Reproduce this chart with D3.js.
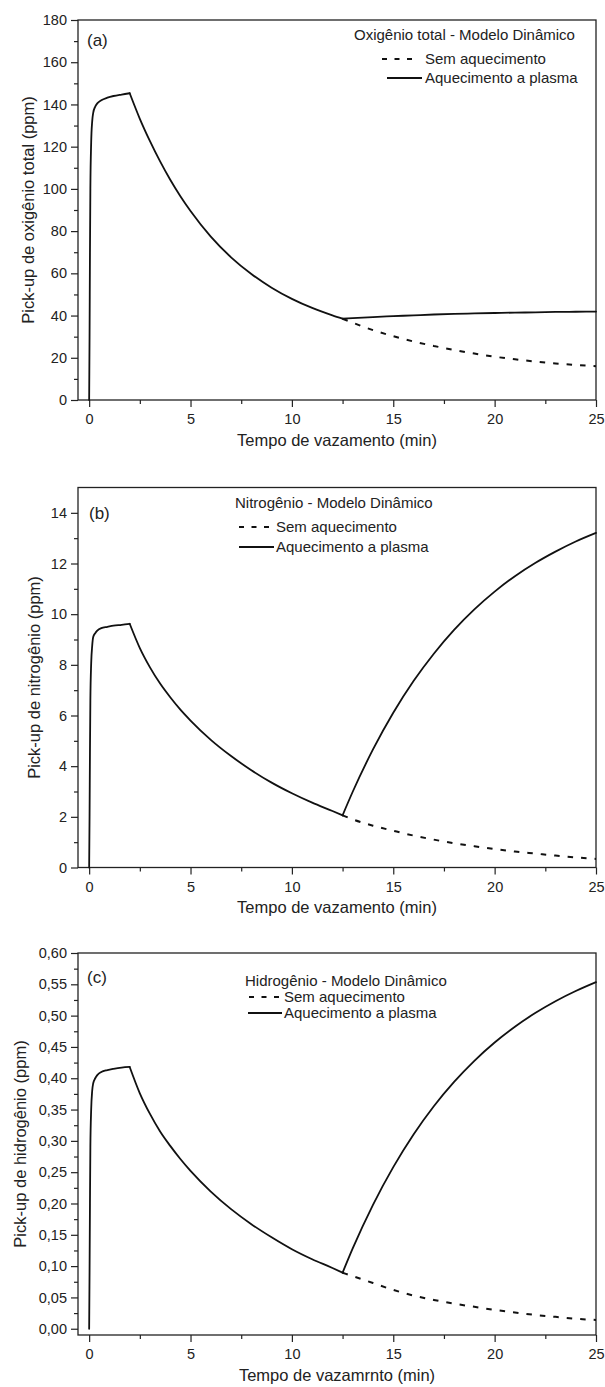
<!DOCTYPE html>
<html><head><meta charset="utf-8">
<script src="https://cdn.jsdelivr.net/npm/d3@7"></script>
<style>
body{margin:0;background:#fff}
text{font-family:"Liberation Sans",Arial,sans-serif;fill:#222}
</style>
</head><body>
<svg id="chart" width="605" height="1387"></svg>
<script>
// ---- data ----
const tCommon = [0,0.02,0.04,0.06,0.1,0.15,0.2,0.3,0.4,0.6,0.9,1.2,1.6,2.0,2.5,3,3.5,4,4.5,5,6,7,8,9,10,11,12,12.5];
const tAfter  = [12.5,13,14,15,16,17,18,19,20,21,22,23,24,25];

const oxCommon = [0,30,70,100,122,132,136,139,140.5,142,143.2,144,144.7,145.3,133.2,122.6,113.0,104.3,96.5,89.5,77.4,67.6,59.7,53.2,47.9,43.6,40.1,38.5];
const oxSem    = [38.5,36.6,33.1,30.2,27.7,25.6,23.7,22.0,20.5,19.3,18.2,17.3,16.6,16.0];
const oxPlasma = [38.5,38.8,39.3,39.7,40.1,40.5,40.8,41.0,41.2,41.4,41.5,41.7,41.8,41.9];

const nCommon = [0,2.0,4.6,6.6,8.05,8.75,9.1,9.25,9.35,9.45,9.5,9.55,9.58,9.62,8.66,7.90,7.26,6.72,6.23,5.80,5.04,4.40,3.84,3.35,2.93,2.56,2.23,2.06];
const nSem     = [2.06,1.9,1.65,1.45,1.26,1.1,0.96,0.84,0.73,0.63,0.55,0.47,0.40,0.34];
const nPlasma  = [2.06,2.99,4.66,6.11,7.36,8.44,9.38,10.19,10.89,11.50,12.02,12.47,12.87,13.21];

const hCommon = [0,0.09,0.2,0.29,0.35,0.38,0.392,0.40,0.405,0.41,0.413,0.415,0.417,0.418,0.376,0.343,0.315,0.292,0.271,0.252,0.219,0.191,0.167,0.146,0.127,0.111,0.097,0.0895];
const hSem     = [0.0895,0.084,0.073,0.062,0.053,0.046,0.040,0.035,0.030,0.026,0.022,0.019,0.016,0.014];
const hPlasma  = [0.0895,0.1283,0.1979,0.2581,0.3102,0.3553,0.3942,0.4279,0.4571,0.4823,0.5041,0.5230,0.5393,0.5535];

const xMajor = [0,5,10,15,20,25];
const xMinor = [2.5,7.5,12.5,17.5,22.5];
const legendSem = "Sem aquecimento";
const legendPlasma = "Aquecimento a plasma";

const commaFmt = d3.formatLocale({decimal:",",thousands:".",grouping:[3],currency:["",""]}).format(".2f");

const panels = [
 {label:"(a)", top:20, bottom:400, yDomain:[0,180], yMajor:d3.range(0,181,20), yMinor:d3.range(10,180,20),
  fmt:d3.format("d"), common:oxCommon, sem:oxSem, plasma:oxPlasma,
  yTitle:"Pick-up de oxigênio total (ppm)", yTitleX:28, xTitle:"Tempo de vazamento (min)",
  legTitle:"Oxigênio total - Modelo Dinâmico", legTitleX:354, legDashX:382, legSolidX:387, legSolidX2:422, legTextX:425, legY:[35,59,78], labelPos:[87,40]},
 {label:"(b)", top:487.5, bottom:867.5, yDomain:[0,15], yMajor:d3.range(0,15,2), yMinor:d3.range(1,14,2),
  fmt:d3.format("d"), common:nCommon, sem:nSem, plasma:nPlasma,
  yTitle:"Pick-up de nitrogênio (ppm)", yTitleX:34, xTitle:"Tempo de vazamento (min)",
  legTitle:"Nitrogênio - Modelo Dinâmico", legTitleX:235, legDashX:239, legSolidX:239, legSolidX2:274, legTextX:276, legY:[503,527,547], labelPos:[89,513]},
 {label:"(c)", top:953, bottom:1335, yDomain:[-0.01,0.6], yMajor:d3.range(0,13).map(i=>i*0.05), yMinor:d3.range(0,12).map(i=>i*0.05+0.025),
  fmt:commaFmt, common:hCommon, sem:hSem, plasma:hPlasma,
  yTitle:"Pick-up de hidrogênio (ppm)", yTitleX:20, xTitle:"Tempo de vazamrnto (min)",
  legTitle:"Hidrogênio - Modelo Dinâmico", legTitleX:245, legDashX:249, legSolidX:248, legSolidX2:282, legTextX:284, legY:[981,997,1013], labelPos:[87,977]}
];

const svg = d3.select("#chart");
const L = 78, R = 596;

panels.forEach(p => {
  const g = svg.append("g");
  const x = d3.scaleLinear().domain([-0.55,25]).range([L,R]);
  const y = d3.scaleLinear().domain(p.yDomain).range([p.bottom,p.top]);

  const xa = g.append("g").attr("transform",`translate(0,${p.bottom})`)
    .call(d3.axisBottom(x).tickValues(xMajor).tickSize(7).tickPadding(7).tickFormat(d3.format("d")));
  const xm = g.append("g").attr("transform",`translate(0,${p.bottom})`)
    .call(d3.axisBottom(x).tickValues(xMinor).tickSize(4).tickFormat(""));
  const ya = g.append("g").attr("transform",`translate(${L},0)`)
    .call(d3.axisLeft(y).tickValues(p.yMajor).tickSize(7).tickPadding(4).tickFormat(p.fmt));
  const ym = g.append("g").attr("transform",`translate(${L},0)`)
    .call(d3.axisLeft(y).tickValues(p.yMinor).tickSize(4).tickFormat(""));
  [xa,xm,ya,ym].forEach(a=>{
    a.select(".domain").remove();
    a.selectAll("line").attr("stroke","#222").attr("stroke-width",1.2);
    a.selectAll("text").style("font-size","14.5px").attr("fill","#222").style("font-family",'"Liberation Sans",Arial,sans-serif');
  });

  g.append("rect").attr("x",L).attr("y",p.top).attr("width",R-L).attr("height",p.bottom-p.top)
    .attr("fill","none").attr("stroke","#222").attr("stroke-width",1.3);

  const line = d3.line().x(d=>x(d[0])).y(d=>y(d[1])).curve(d3.curveMonotoneX);
  const common = tCommon.map((t,i)=>[t,p.common[i]]);
  const rise = common.filter(d=>d[0]<=2);
  const decay = common.filter(d=>d[0]>=2);
  const sem = tAfter.map((t,i)=>[t,p.sem[i]]);
  const plasma = tAfter.map((t,i)=>[t,p.plasma[i]]);

  g.append("path").attr("d",line(sem)).attr("fill","none").attr("stroke","#111")
    .attr("stroke-width",2).attr("stroke-dasharray","5.5,8");
  [rise,decay,plasma].forEach(seg=>{
    g.append("path").attr("d",line(seg)).attr("fill","none").attr("stroke","#111")
      .attr("stroke-width",1.8).attr("stroke-linejoin","round").attr("stroke-linecap","round");
  });

  g.append("text").attr("x",p.labelPos[0]).attr("y",p.labelPos[1]).attr("dy","0.35em")
    .style("font-size","17px").text(p.label);

  g.append("text").attr("x",p.legTitleX).attr("y",p.legY[0]).attr("dy","0.35em").style("font-size","15px").text(p.legTitle);
  g.append("line").attr("x1",p.legDashX).attr("x2",p.legDashX+30).attr("y1",p.legY[1]).attr("y2",p.legY[1])
    .attr("stroke","#111").attr("stroke-width",1.8).attr("stroke-dasharray","5,7.5");
  g.append("text").attr("x",p.legTextX).attr("y",p.legY[1]).attr("dy","0.35em").style("font-size","15px").text(legendSem);
  g.append("line").attr("x1",p.legSolidX).attr("x2",p.legSolidX2).attr("y1",p.legY[2]).attr("y2",p.legY[2])
    .attr("stroke","#111").attr("stroke-width",1.8);
  g.append("text").attr("x",p.legTextX).attr("y",p.legY[2]).attr("dy","0.35em").style("font-size","15px").text(legendPlasma);

  g.append("text").attr("x",(L+R)/2).attr("y",p.bottom+40).attr("dy","0.35em").attr("text-anchor","middle")
    .style("font-size","16.5px").text(p.xTitle);
  g.append("text").attr("transform",`translate(${p.yTitleX},${(p.top+p.bottom)/2}) rotate(-90)`)
    .attr("dy","0.35em").attr("text-anchor","middle").style("font-size","16.5px").text(p.yTitle);
});
</script>
</body></html>
